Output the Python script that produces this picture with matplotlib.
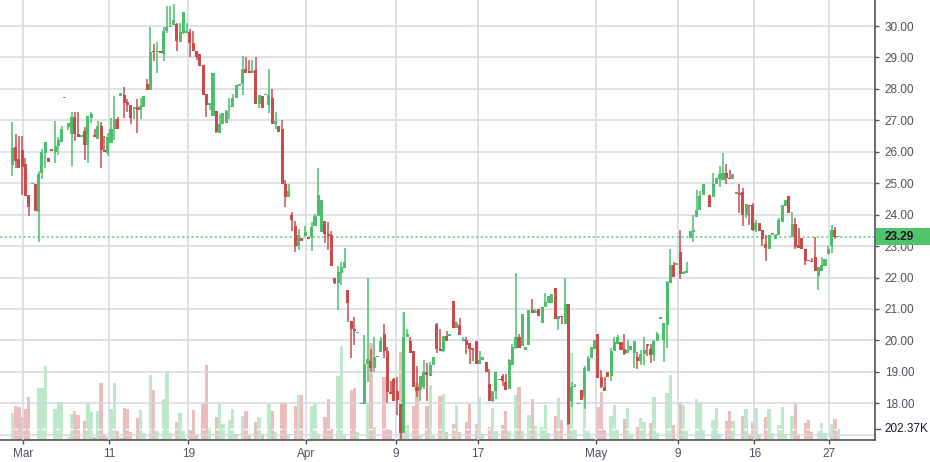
import numpy as np
import matplotlib
matplotlib.use("Agg")
import matplotlib.pyplot as plt
import matplotlib.transforms as mtransforms
from matplotlib.collections import LineCollection
from matplotlib.patches import Rectangle

nan = float("nan")

opens = [
    25.57, 26.14, 25.76, 26.07, 25.60, 24.63, 24.97, 24.96, 24.07, 25.33,
    25.97, 25.79, 26.05, 26.00, 26.18, 26.32, 27.70, 26.80, 26.57, 27.10,
    26.57, 26.47, 26.66, 26.21, 27.07, 26.52, 26.41, 26.82, 26.07, 25.97,
    26.29, 26.72, 27.04, 27.76, 27.82, 27.57, 27.50, 27.36, 27.43, 27.32,
    27.43, 28.17, 27.98, 29.21, 29.17, 29.20, 29.10, 29.85, 29.96, 30.03,
    30.06, 29.50, 29.79, 29.79, 29.82, 29.47, 29.20, 29.11, 28.76, 27.85,
    27.50, 27.13, 27.30, 26.60, 26.87, 26.91, 27.42, 27.43, 27.72, 28.10,
    28.17, 28.63, 28.57, 28.52, 28.60, 27.53, 27.78, 27.79, 27.48, 27.72,
    26.87, 26.81, 26.73, 24.98, 24.57, 23.99, 23.65, 23.01, 23.26, 23.31,
    23.30, 23.28, 23.63, 23.95, 23.44, 23.79, 23.40, 23.35, 22.00, 21.82,
    22.16, 22.30, 21.60, 20.62, 20.37, 20.23, 17.97, 17.98, 19.25, 19.33,
    19.12, 19.47, 19.64, 20.22, 19.67, 18.34, 18.77, 18.40, 17.98, 17.05,
    20.10, 19.99, 19.65, 18.51, 18.42, 18.51, 19.00, 18.88, 19.22, 20.52,
    19.72, 19.67, 20.15, 20.14, 21.24, 20.39, 20.50, 19.98, 20.01, 19.92,
    19.75, 19.99, 19.25, 19.38, 19.30, 18.60, 18.08, 18.40, 18.75, 18.88,
    18.67, 18.46, 19.23, 19.76, 20.10, 19.83, 19.69, 19.86, 20.96, 20.86,
    21.00, 20.54, 21.07, 21.19, 21.19, 21.66, 20.68, 20.78, 20.52, 21.15,
    18.06, 18.51, 17.97, 18.42, 18.20, 19.04, 19.43, 19.72, 20.20, 18.83,
    18.53, 18.98, 18.87, 19.65, 19.90, 19.94, 19.72, 19.59, 19.69, 19.59,
    19.46, 19.35, 19.56, 19.90, 19.72, 19.54, 19.99, 20.69, 20.01, 20.49,
    21.82, 22.41, 22.40, 22.81, 22.10, 22.14, 23.27, 23.45, 23.93, 24.16,
    24.62, nan, 24.62, 24.56, 24.99, 25.12, 25.10, 25.31, 25.15, 25.12,
    24.66, 24.70, 24.72, 23.98, 24.32, 24.30, 23.50, 23.73, 23.52, 23.07,
    22.91, 23.36, 23.23, 23.34, 23.77, 24.27, 24.59, 23.29, 23.71, 23.04,
    23.27, 22.91, 22.56, 22.54, 22.65, 22.06, 22.22, 22.38, 22.76, 22.99,
    23.50, 23.28,
]

highs = [
    26.94, 26.57, 26.50, 26.50, 25.80, 24.63, 24.99, 24.96, 25.39, 26.09,
    26.30, 25.79, 26.05, 26.98, 26.46, 26.82, 27.72, 26.91, 27.25, 27.25,
    27.28, 26.49, 26.80, 27.14, 27.25, 26.73, 26.98, 26.96, 26.50, 26.61,
    27.07, 27.76, 27.12, 27.88, 28.06, 27.69, 27.50, 27.38, 27.69, 27.72,
    27.78, 28.31, 29.96, 29.43, 29.50, 29.20, 29.98, 30.64, 30.64, 30.70,
    30.11, 30.09, 30.44, 30.09, 29.89, 29.84, 29.20, 29.11, 28.76, 27.85,
    27.56, 28.49, 27.30, 27.20, 27.23, 27.34, 27.72, 27.85, 28.12, 28.15,
    29.04, 29.00, 28.91, 28.91, 29.00, 27.80, 27.78, 27.81, 28.63, 28.01,
    27.27, 26.81, 27.00, 25.11, 24.98, 24.07, 23.79, 23.54, 23.26, 23.63,
    23.30, 23.76, 24.02, 25.49, 24.47, 23.79, 23.76, 23.49, 22.00, 22.37,
    22.48, 22.94, 21.60, 20.62, 20.76, 20.25, 17.99, 20.17, 22.00, 19.72,
    20.10, 19.49, 20.10, 20.52, 19.78, 18.70, 18.80, 18.85, 17.98, 20.89,
    20.36, 20.10, 19.65, 19.20, 18.88, 19.38, 19.27, 19.30, 19.48, 20.54,
    20.36, 20.15, 20.29, 20.16, 21.26, 20.62, 20.70, 20.10, 20.10, 19.92,
    19.75, 19.99, 19.67, 19.46, 19.30, 19.09, 18.40, 19.00, 18.75, 18.93,
    18.93, 19.41, 19.90, 22.16, 20.22, 20.84, 19.80, 20.96, 21.31, 21.00,
    21.00, 21.07, 21.52, 21.42, 21.49, 21.66, 20.78, 20.78, 21.98, 21.15,
    18.69, 18.60, 17.99, 18.42, 19.20, 19.51, 19.78, 20.01, 20.20, 19.06,
    18.85, 18.98, 19.76, 20.10, 20.18, 19.94, 20.22, 20.00, 19.83, 19.97,
    19.62, 19.69, 20.10, 19.90, 19.88, 20.01, 20.26, 20.71, 20.57, 21.88,
    22.91, 22.49, 22.42, 23.50, 22.22, 22.49, 23.48, 23.98, 24.80, 24.76,
    24.99, nan, 24.62, 25.31, 25.18, 25.54, 25.95, 25.61, 25.41, 25.29,
    24.68, 24.99, 24.86, 24.35, 24.32, 24.38, 23.84, 23.73, 23.52, 23.34,
    23.36, 23.39, 23.40, 23.90, 24.30, 24.48, 24.59, 24.09, 23.90, 23.59,
    23.27, 22.91, 22.56, 22.63, 23.29, 22.33, 22.65, 22.60, 22.99, 23.66,
    23.61, 23.29,
]

lows = [
    25.22, 25.47, 25.47, 24.63, 24.60, 23.97, 24.97, 24.13, 23.13, 25.14,
    25.47, 25.67, 26.03, 25.63, 25.90, 26.30, 27.70, 26.70, 25.54, 26.34,
    26.46, 26.47, 25.73, 25.63, 26.90, 26.48, 26.41, 25.47, 26.00, 25.87,
    26.29, 26.37, 26.73, 27.76, 27.07, 27.28, 26.87, 27.05, 26.60, 27.05,
    27.43, 27.96, 27.98, 28.89, 28.51, 29.15, 28.89, 29.77, 29.96, 30.03,
    29.21, 29.50, 29.76, 29.79, 29.02, 29.21, 28.91, 28.73, 27.80, 27.09,
    27.32, 27.13, 26.60, 26.60, 26.87, 26.91, 27.05, 27.43, 27.72, 28.10,
    27.80, 28.49, 28.51, 28.52, 27.53, 27.40, 27.40, 27.79, 27.23, 26.87,
    26.73, 26.63, 24.98, 24.23, 24.57, 23.49, 22.80, 22.87, 23.17, 23.31,
    23.22, 22.85, 23.63, 23.95, 23.44, 23.09, 22.87, 22.37, 21.79, 20.96,
    21.76, 22.30, 20.60, 19.45, 19.87, 20.23, 17.97, 17.98, 18.67, 19.00,
    19.00, 19.47, 19.64, 19.44, 18.00, 18.30, 18.08, 17.64, 16.85, 17.05,
    20.10, 19.59, 18.51, 18.19, 18.08, 18.45, 18.08, 18.88, 19.22, 19.59,
    19.67, 19.62, 19.99, 20.14, 20.39, 20.39, 20.18, 19.98, 19.57, 19.25,
    19.35, 19.25, 19.25, 19.38, 18.98, 18.08, 18.05, 18.14, 18.73, 18.56,
    18.43, 18.46, 19.23, 19.72, 19.76, 19.83, 19.69, 19.86, 20.86, 20.86,
    20.78, 20.54, 21.05, 21.19, 21.19, 20.68, 20.33, 20.52, 20.52, 17.32,
    17.87, 18.51, 17.97, 18.10, 17.82, 19.04, 19.43, 19.72, 18.79, 18.49,
    18.40, 18.84, 18.71, 19.65, 19.90, 19.69, 19.54, 19.59, 19.69, 19.12,
    19.09, 19.22, 19.22, 19.51, 19.27, 19.33, 19.99, 20.69, 19.30, 19.76,
    21.82, 22.03, 22.40, 21.96, 22.10, 22.14, 23.27, 23.13, 23.93, 24.16,
    24.62, nan, 24.24, 24.56, 24.99, 24.88, 25.10, 24.97, 25.12, 25.12,
    24.66, 24.05, 23.63, 23.90, 23.66, 23.48, 23.45, 23.47, 22.99, 22.54,
    22.91, 23.36, 23.23, 23.34, 23.77, 24.27, 24.05, 23.29, 22.91, 22.95,
    22.91, 22.41, 22.52, 22.49, 22.20, 21.59, 22.22, 22.38, 22.76, 22.78,
    23.21, 23.28,
]

closes = [
    26.11, 25.71, 25.47, 25.52, 24.60, 24.24, 24.99, 24.13, 25.30, 25.98,
    26.30, 25.67, 26.03, 26.19, 26.37, 26.72, 27.72, 26.91, 27.10, 26.57,
    26.46, 26.49, 26.21, 27.14, 27.21, 26.48, 26.82, 26.05, 26.00, 26.46,
    26.72, 27.04, 26.73, 27.88, 27.55, 27.50, 27.07, 27.38, 27.32, 27.45,
    27.78, 27.96, 29.18, 29.16, 29.19, 29.15, 29.84, 29.96, 30.00, 30.19,
    29.53, 29.82, 30.44, 29.80, 29.45, 29.21, 29.02, 28.73, 27.82, 27.50,
    27.56, 28.49, 26.63, 26.87, 27.23, 27.29, 27.44, 27.72, 28.12, 28.15,
    28.63, 28.49, 28.51, 28.54, 27.53, 27.80, 27.40, 27.81, 27.80, 26.87,
    26.98, 26.63, 24.98, 24.57, 24.74, 23.83, 23.01, 23.35, 23.17, 23.46,
    23.22, 23.60, 23.95, 24.63, 24.47, 23.40, 23.33, 22.37, 21.82, 22.19,
    22.34, 22.48, 21.18, 20.35, 20.30, 20.25, 17.99, 19.26, 19.42, 19.12,
    19.48, 19.49, 19.99, 19.67, 18.35, 18.30, 18.08, 18.10, 17.05, 20.10,
    20.22, 19.59, 18.51, 18.40, 18.86, 18.98, 18.90, 19.22, 19.48, 19.72,
    19.67, 20.15, 19.99, 20.16, 20.39, 20.54, 20.18, 20.00, 19.86, 19.72,
    19.69, 19.25, 19.38, 19.46, 18.98, 18.08, 18.40, 19.00, 18.73, 18.72,
    18.43, 19.38, 19.80, 20.12, 19.76, 20.84, 19.80, 20.96, 20.86, 20.92,
    20.78, 21.07, 21.21, 21.42, 21.49, 20.68, 20.78, 20.73, 21.15, 17.34,
    18.51, 18.56, 17.99, 18.10, 19.11, 19.43, 19.78, 20.01, 18.79, 18.51,
    18.40, 18.85, 19.65, 19.94, 20.10, 19.69, 19.56, 19.69, 19.83, 19.97,
    19.33, 19.56, 19.69, 19.83, 19.54, 19.99, 20.22, 20.71, 20.54, 21.85,
    22.41, 22.03, 22.42, 22.12, 22.17, 22.22, 23.48, 23.50, 24.16, 24.59,
    24.97, nan, 24.24, 24.99, 25.15, 25.29, 25.33, 25.15, 25.12, 25.29,
    24.68, 24.64, 23.98, 24.35, 24.27, 23.52, 23.73, 23.47, 23.23, 22.95,
    23.36, 23.39, 23.34, 23.82, 24.30, 24.48, 24.05, 23.71, 22.97, 22.95,
    22.91, 22.52, 22.52, 22.49, 22.20, 22.33, 22.41, 22.60, 22.91, 23.52,
    23.29, 23.29,
]

volumes_k = [
    497, 626, 607, 423, 570, 791, 15, 15, 957, 957,
    1362, 15, 15, 570, 699, 699, 15, 55, 478, 534,
    460, 15, 350, 681, 515, 55, 534, 1049, 110, 55,
    570, 1049, 166, 55, 589, 570, 147, 15, 405, 552,
    129, 15, 1196, 920, 166, 15, 754, 1270, 129, 15,
    331, 497, 166, 15, 184, 552, 92, 15, 662, 1380,
    221, 15, 423, 681, 294, 15, 368, 570, 110, 15,
    442, 534, 92, 15, 331, 423, 110, 15, 662, 534,
    147, 15, 699, 681, 110, 15, 626, 828, 828, 15,
    15, 626, 662, 110, 15, 423, 754, 202, 15, 1178,
    1730, 92, 15, 920, 957, 147, 15, 15, 662, 1785,
    239, 15, 15, 1159, 202, 184, 15, 15, 1619, 2355,
    276, 15, 626, 1049, 74, 15, 626, 1012, 92, 15,
    810, 846, 147, 15, 294, 644, 147, 15, 331, 662,
    15, 294, 791, 110, 15, 239, 589, 166, 15, 276,
    534, 166, 15, 828, 975, 166, 15, 460, 754, 258,
    15, 239, 644, 129, 15, 442, 773, 368, 15, 2116,
    1601, 184, 15, 15, 1104, 166, 55, 15, 607, 883,
    184, 15, 442, 644, 184, 15, 386, 589, 110, 15,
    239, 405, 331, 15, 313, 791, 129, 15, 15, 865,
    1196, 276, 15, 699, 644, 166, 15, 15, 754, 699,
    184, 0, 15, 368, 589, 110, 15, 350, 534, 350,
    15, 15, 442, 570, 110, 331, 589, 110, 15, 423,
    570, 129, 15, 276, 607, 110, 15, 442, 681, 110,
    15, 313, 368, 147, 15, 166, 313, 129, 15, 294,
    386, 202.37,
]

tick_positions = [3.3, 29.5, 53.5, 89.3, 116.5, 141.5, 177.4, 202.4, 225.5, 248.3]
tick_labels = ["Mar", "11", "19", "Apr", "9", "17", "May", "9", "16", "27"]
price_ticks = [18, 19, 20, 21, 22, 23, 24, 25, 26, 27, 28, 29, 30]
grid_levels = [17] + price_ticks
last_price = 23.29
last_volume_k = 202.37

# ---- style ----
UP = "#4cbf6b"
DOWN = "#c94c4c"
UP_VOL = "#bfe8cb"
DOWN_VOL = "#ebbdbd"
GRID = "#d5d8e0"
TXT = "#4c525e"
plt.rcParams["font.family"] = ["Liberation Sans", "DejaVu Sans"]

o = np.array(opens, dtype=float)
h = np.array(highs, dtype=float)
l = np.array(lows, dtype=float)
c = np.array(closes, dtype=float)
v = np.array(volumes_k, dtype=float)
x = np.arange(len(o))
valid = ~np.isnan(o)
up = np.where(valid, c >= o, True)

fig = plt.figure(figsize=(9.3, 4.62), dpi=100)
axv = fig.add_axes([0, 22 / 462, 875 / 930, 440 / 462])
ax = axv.twinx()
ax.set_zorder(axv.get_zorder() + 1)
ax.patch.set_visible(False)

xmin, xmax = -3.74, 262.2
axv.set_xlim(xmin, xmax)
ax.set_ylim(16.833, 30.827)
axv.set_ylim(0, 8096)

# grid
for g in grid_levels:
    ax.axhline(g, color=GRID, lw=1.1, zorder=0)
for t in tick_positions:
    ax.axvline(t, color=GRID, lw=1.1, zorder=0)

# volume
axv.bar(x, v, width=1.0, color=[UP_VOL if u else DOWN_VOL for u in up],
        linewidth=0, zorder=2)
axv.axhline(last_volume_k, color="white", lw=1.0, ls=(0, (3, 2)), zorder=3)

# last price line
ax.axhline(last_price, color="#86d9a1", lw=1.4, ls=(0, (1.2, 1.2)), zorder=1.5)

# candles
xv = x[valid]
wick_segs = [[(xi, lo), (xi, hi)] for xi, lo, hi in zip(xv, l[valid], h[valid])]
wick_cols = [UP if u else DOWN for u in up[valid]]
ax.add_collection(LineCollection(wick_segs, colors=wick_cols, linewidths=1.1, zorder=3))
body_bottom = np.minimum(o[valid], c[valid])
body_h = np.maximum(np.abs(c[valid] - o[valid]), 0.05)
ax.bar(xv, body_h, bottom=body_bottom, width=0.92, color=wick_cols, linewidth=0, zorder=4)

# axes styling
for s in ["top", "left", "right"]:
    axv.spines[s].set_visible(False)
axv.spines["bottom"].set_color(TXT)
axv.spines["bottom"].set_linewidth(1.2)
for s in ["top", "left", "bottom"]:
    ax.spines[s].set_visible(False)
ax.spines["right"].set_color(TXT)
ax.spines["right"].set_linewidth(1.2)

axv.set_yticks([])
axv.set_xticks(tick_positions)
axv.set_xticklabels(tick_labels)
axv.tick_params(axis="x", length=3, width=1, color=TXT, labelcolor=TXT,
                labelsize=8.5, pad=3)

ax.set_yticks(price_ticks)
ax.set_yticklabels([f"{p:.2f}" for p in price_ticks])
ax.tick_params(axis="y", length=3, width=1, color=TXT, labelcolor=TXT,
               labelsize=8.5, pad=4)

# last price label
trans_p = mtransforms.blended_transform_factory(ax.transAxes, ax.transData)
ax.add_patch(Rectangle((1.0015, last_price - 0.27), 0.07, 0.54, transform=trans_p,
                       facecolor="#4fc46d", edgecolor="none", clip_on=False, zorder=10))
ax.text(1.0105, last_price, f"{last_price:.2f}", transform=trans_p, ha="left",
        va="center", fontsize=8.5, color="#131722", fontweight="bold",
        clip_on=False, zorder=11)

# last volume label
trans_v = mtransforms.blended_transform_factory(axv.transAxes, axv.transData)
axv.text(1.0105, last_volume_k, "202.37K", transform=trans_v, ha="left", va="center",
         fontsize=8.5, color="#131722", clip_on=False, zorder=11,
         bbox=dict(boxstyle="square,pad=0.15", facecolor="white", edgecolor="none"))
axv.plot([1.0015, 1.0055], [last_volume_k, last_volume_k], transform=trans_v,
         color=TXT, lw=1, clip_on=False)

fig.savefig("out.png", dpi=100, facecolor="white")
